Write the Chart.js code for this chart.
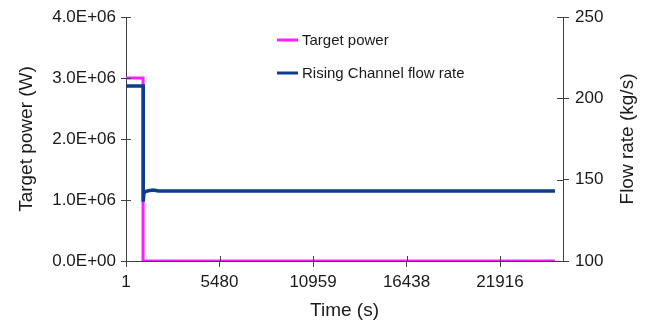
<!DOCTYPE html>
<html>
<head>
<meta charset="utf-8">
<script src="https://cdn.jsdelivr.net/npm/chart.js@4/dist/chart.umd.min.js"></script>
<style>
  html, body { margin: 0; padding: 0; background: #fff; }
  #wrap { width: 648px; height: 322px; }
</style>
</head>
<body>
<div id="wrap"><canvas id="flowChart" width="648" height="322"></canvas></div>
<script>
// values
const powerTimes = [1, 1000, 1000, 25140];
const powerValues = [3.0e6, 3.0e6, 0, 0];
const flowTimes = [1, 1010, 1010, 1060, 1300, 1600, 1900, 25140];
const flowValues = [207.6, 207.6, 136.5, 142.4, 143.2, 143.6, 143.0, 143.0];
const timeTicks = [1, 5480, 10959, 16438, 21916];
const powerTicks = [0, 1e6, 2e6, 3e6, 4e6];
const flowTicks = [100, 150, 200, 250];
const flowTitle = "Flow rate (kg/s)";

const axisColor = "#404040";
const textColor = "#1a1a1a";
const fontFamily = "'Liberation Sans', Arial, sans-serif";

function toPoints(xs, ys) {
    return xs.map((x, i) => ({ x: x, y: ys[i] }));
}

function sciLabel(value) {
    let [mant, exp] = value.toExponential(1).split("e");
    let sign = exp[0] === "-" ? "-" : "+";
    let digits = exp.replace(/[+-]/, "").padStart(2, "0");
    return mant + "E" + sign + digits;
}

// inner half of the tick marks (the library only draws them outside)
const innerTicks = {
    id: "innerTicks",
    afterDraw(chart) {
        const ctx = chart.ctx;
        const area = chart.chartArea;
        ctx.save();
        ctx.strokeStyle = axisColor;
        ctx.lineWidth = 1;
        ctx.beginPath();
        for (const t of chart.scales.x.ticks) {
            let px = Math.round(chart.scales.x.getPixelForValue(t.value)) + 0.5;
            ctx.moveTo(px, area.bottom);
            ctx.lineTo(px, area.bottom - 5);
        }
        for (const t of chart.scales.y.ticks) {
            let py = Math.round(chart.scales.y.getPixelForValue(t.value)) + 0.5;
            ctx.moveTo(area.left, py);
            ctx.lineTo(area.left + 5, py);
        }
        for (const t of chart.scales.y1.ticks) {
            let py = Math.round(chart.scales.y1.getPixelForValue(t.value)) + 0.5;
            ctx.moveTo(area.right, py);
            ctx.lineTo(area.right - 6, py);
        }
        ctx.stroke();
        ctx.restore();
    }
};

// right axis title reads bottom-to-top like the left one
const rightTitle = {
    id: "rightTitle",
    afterDraw(chart) {
        const ctx = chart.ctx;
        const area = chart.chartArea;
        ctx.save();
        ctx.translate(628, (area.top + area.bottom) / 2);
        ctx.rotate(-Math.PI / 2);
        ctx.font = "19px " + fontFamily;
        ctx.fillStyle = textColor;
        ctx.textAlign = "center";
        ctx.textBaseline = "middle";
        ctx.fillText(flowTitle, 0, 0);
        ctx.restore();
    }
};

// legend sits inside the plot, near the middle top
const insideLegend = {
    id: "insideLegend",
    afterDraw(chart) {
        const ctx = chart.ctx;
        ctx.save();
        ctx.font = "15px " + fontFamily;
        ctx.textBaseline = "middle";
        let rows = [40, 73];
        chart.data.datasets.forEach((ds, i) => {
            ctx.strokeStyle = ds.borderColor;
            ctx.lineWidth = 3;
            ctx.beginPath();
            ctx.moveTo(277, rows[i]);
            ctx.lineTo(298, rows[i]);
            ctx.stroke();
            ctx.fillStyle = textColor;
            ctx.fillText(ds.label, 302, rows[i] + 1);
        });
        ctx.restore();
    }
};

let chartEl = document.getElementById("flowChart");
let flowChart = new Chart(chartEl, {
    type: "line",
    data: {
        datasets: [{
            label: "Target power",
            data: toPoints(powerTimes, powerValues),
            borderColor: "#FF1EFF",
            borderWidth: 3,
            pointRadius: 0,
            yAxisID: "y",
            order: 1
        }, {
            label: "Rising Channel flow rate",
            data: toPoints(flowTimes, flowValues),
            borderColor: "#0B3D8C",
            borderWidth: 3.5,
            pointRadius: 0,
            yAxisID: "y1",
            order: 0
        }]
    },
    options: {
        responsive: false,
        animation: false,
        layout: { padding: { top: 17, right: 0, left: 0, bottom: 0 } },
        plugins: {
            legend: { display: false },
            tooltip: { enabled: false }
        },
        scales: {
            x: {
                type: "linear",
                min: 1,
                max: 25607,
                afterBuildTicks: (scale) => {
                    scale.ticks = timeTicks.map(v => ({ value: v }));
                },
                afterFit: (scale) => { scale.height = 61; },
                grid: { drawOnChartArea: false, tickLength: 6, color: axisColor },
                border: { color: axisColor },
                ticks: {
                    color: textColor,
                    padding: 5,
                    maxRotation: 0,
                    autoSkip: false,
                    font: { family: fontFamily, size: 17 },
                    callback: (v) => String(v)
                },
                title: {
                    display: true,
                    text: "Time (s)",
                    color: textColor,
                    padding: { top: 0, bottom: 0 },
                    font: { family: fontFamily, size: 19 }
                }
            },
            y: {
                position: "left",
                min: 0,
                max: 4e6,
                afterBuildTicks: (scale) => {
                    scale.ticks = powerTicks.map(v => ({ value: v }));
                },
                afterFit: (scale) => { scale.width = 126; },
                grid: { drawOnChartArea: false, tickLength: 5, color: axisColor },
                border: { color: axisColor },
                ticks: {
                    color: textColor,
                    padding: 5,
                    font: { family: fontFamily, size: 17 },
                    callback: (v) => sciLabel(v)
                },
                title: {
                    display: true,
                    text: "Target power (W)",
                    color: textColor,
                    padding: { top: 15, bottom: 0 },
                    font: { family: fontFamily, size: 19 }
                }
            },
            y1: {
                position: "right",
                min: 100,
                max: 250,
                afterBuildTicks: (scale) => {
                    scale.ticks = flowTicks.map(v => ({ value: v }));
                },
                afterFit: (scale) => { scale.width = 85; },
                grid: { drawOnChartArea: false, tickLength: 6, color: axisColor },
                border: { color: axisColor },
                ticks: {
                    color: textColor,
                    padding: 6,
                    font: { family: fontFamily, size: 17 }
                }
            }
        }
    },
    plugins: [innerTicks, rightTitle, insideLegend]
});
</script>
</body>
</html>
